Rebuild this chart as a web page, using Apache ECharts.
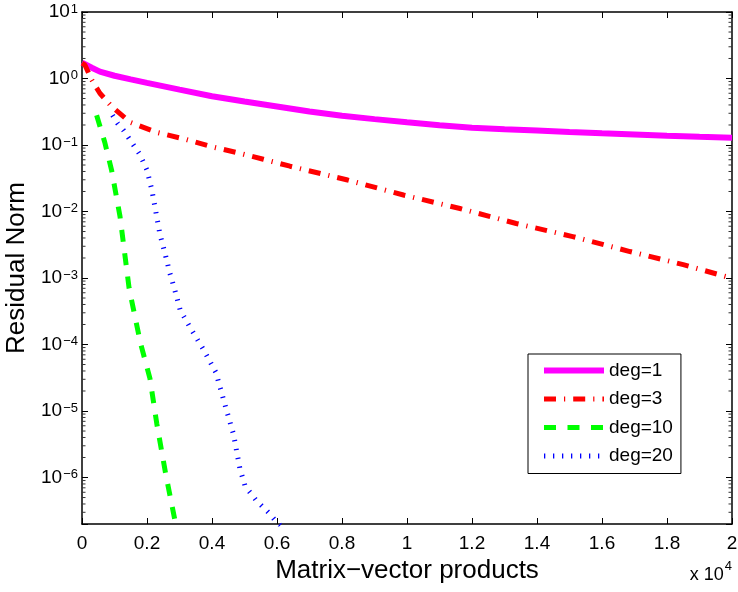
<!DOCTYPE html>
<html><head><meta charset="utf-8">
<script src="https://cdn.jsdelivr.net/npm/echarts@6/dist/echarts.min.js"></script>
<style>html,body{margin:0;padding:0;background:#fff}#c{width:738px;height:592px}</style>
</head><body><div id="c"></div>
<script>
// ---- data (x in units of 10^4 matrix-vector products) ----
const xTickLabels = ['0','0.2','0.4','0.6','0.8','1','1.2','1.4','1.6','1.8','2'];
const seriesNames = ['deg=1','deg=3','deg=10','deg=20'];

const deg1X = [0, 0.03, 0.055, 0.1, 0.15, 0.2, 0.3, 0.4, 0.5, 0.6, 0.7, 0.8, 0.9, 1.0, 1.1, 1.2, 1.3, 1.4, 1.5, 1.6, 1.7, 1.8, 1.9, 2.0];
const deg1Y = [1.73, 1.45, 1.27, 1.1, 0.97, 0.86, 0.68, 0.54, 0.45, 0.38, 0.32, 0.275, 0.245, 0.22, 0.198, 0.182, 0.172, 0.165, 0.157, 0.150, 0.144, 0.138, 0.133, 0.129];

const deg3X = [0, 0.009, 0.03, 0.055, 0.09, 0.148, 0.23, 0.318, 0.40, 0.486, 0.558, 0.64, 0.814, 0.989, 1.163, 1.336, 1.51, 1.686, 1.85, 2.0];
const deg3Y = [1.7, 1.6, 0.95, 0.6, 0.385, 0.22, 0.155, 0.122, 0.094, 0.075, 0.061, 0.048, 0.030, 0.0177, 0.0111, 0.0066, 0.0042, 0.0025, 0.00159, 0.00099];

const deg10X = [0.045, 0.07, 0.091, 0.117, 0.145, 0.18, 0.209, 0.23, 0.258, 0.29];
const deg10Y = [0.28, 0.11, 0.042, 0.0084, 7.0e-4, 1.05e-4, 3.1e-5, 6.5e-6, 1.1e-6, 1.8e-7];

const deg20X = [0.094, 0.11, 0.127, 0.15, 0.178, 0.2, 0.215, 0.227, 0.24, 0.255, 0.27, 0.286, 0.302, 0.33, 0.373, 0.412, 0.443, 0.466, 0.486, 0.502, 0.535, 0.576, 0.6, 0.61];
const deg20Y = [0.28, 0.21, 0.168, 0.115, 0.072, 0.042, 0.021, 0.01, 0.0045, 0.0024, 0.0012, 6.5e-4, 3.3e-4, 1.9e-4, 8.5e-5, 3.8e-5, 1.1e-5, 4.5e-6, 1.35e-6, 7.4e-7, 4.6e-7, 2.9e-7, 2.1e-7, 1.9e-7];

// minor tick mantissas of the log axis (2..9 x 10^n)
const minorMantissas = [2, 3, 4, 5, 6, 7, 8, 9];
const minorDecades = [-7, -6, -5, -4, -3, -2, -1, 0];

// ---- chart ----
const FONT = '"Liberation Sans", Arial, Helvetica, sans-serif';
const Y_MIN = 2e-7, Y_MAX = 10;
const pairs = (xs, ys) => xs.map((x, i) => [x, ys[i]]);

const minorTickValues = [];
minorDecades.forEach(d => minorMantissas.forEach(m => {
  const v = m * Math.pow(10, d);
  if (v > Y_MIN * 1.0001 && v < Y_MAX) minorTickValues.push([0, v]);
}));

const chart = echarts.init(document.getElementById('c'), null, {renderer: 'canvas'});

const axisLineStyle = {color: '#000', width: 1.5};
const tickStyle = {color: '#000', width: 1};

function yLabel(v) {
  const e = Math.log10(v);
  const r = Math.round(e);
  if (Math.abs(e - r) > 1e-6) return '';
  const s = r < 0 ? '\u2212' + (-r) : String(r);
  return '{b|10}{e|' + s + '}';
}

const yRich = {
  b: {fontSize: 19, lineHeight: 19, fontFamily: FONT, color: '#000', padding: [8, 0, 8, 0]},
  e: {fontSize: 13, lineHeight: 13, fontFamily: FONT, color: '#000', verticalAlign: 'top', padding: [0, 0, 0, 1]}
};

const legendWidths = [6, 5, 5, 5];

const option = {
  animation: false,
  backgroundColor: '#fff',
  grid: {left: 82, right: 6, top: 12, bottom: 68, outerBoundsMode: 'none', containLabel: false},
  legend: {
    orient: 'vertical', left: 528, top: 354,
    padding: [7, 8, 8, 13],
    itemWidth: 60, itemHeight: 19, itemGap: 9.5,
    borderColor: '#000', borderWidth: 1, backgroundColor: '#fff',
    itemStyle: {opacity: 0},
    textStyle: {fontSize: 19, lineHeight: 19, fontFamily: FONT, color: '#000'},
    data: seriesNames.map((n, i) => ({name: n, itemStyle: {opacity: 0}, lineStyle: {width: legendWidths[i]}}))
  },
  xAxis: [{
    type: 'value', position: 'bottom', min: 0, max: 2, interval: 0.2,
    name: 'Matrix\u2212vector products', nameLocation: 'middle', nameGap: 30,
    nameTextStyle: {fontSize: 26, fontFamily: FONT, color: '#000'},
    axisLine: {show: true, onZero: false, lineStyle: axisLineStyle},
    axisTick: {show: true, inside: true, length: 6, lineStyle: tickStyle},
    axisLabel: {show: true, margin: 10, fontSize: 19, fontFamily: FONT, color: '#000',
      formatter: v => xTickLabels[Math.round(v / 0.2)]},
    splitLine: {show: false}
  }, {
    type: 'value', position: 'top', min: 0, max: 2, interval: 0.2,
    axisLine: {show: true, onZero: false, lineStyle: axisLineStyle},
    axisTick: {show: true, inside: true, length: 6, lineStyle: tickStyle},
    axisLabel: {show: false},
    splitLine: {show: false}
  }],
  yAxis: [{
    type: 'log', logBase: 10, position: 'left', min: Y_MIN, max: Y_MAX,
    name: 'Residual Norm', nameLocation: 'middle', nameGap: 44, nameRotate: 90,
    nameTextStyle: {fontSize: 26, fontFamily: FONT, color: '#000'},
    axisLine: {show: true, onZero: false, lineStyle: axisLineStyle},
    axisTick: {show: true, inside: true, length: 6, lineStyle: tickStyle},
    axisLabel: {show: true, margin: 4, formatter: yLabel, rich: yRich},
    splitLine: {show: false}
  }, {
    type: 'log', logBase: 10, position: 'right', min: Y_MIN, max: Y_MAX,
    axisLine: {show: true, onZero: false, lineStyle: axisLineStyle},
    axisTick: {show: true, inside: true, length: 6, lineStyle: tickStyle},
    axisLabel: {show: false},
    splitLine: {show: false}
  }],
  graphic: [{
    type: 'text', right: 6, top: 554,
    style: {
      text: '{b|x 10}{e|4}',
      rich: {
        b: {fontSize: 18, lineHeight: 18, fontFamily: FONT, fill: '#000', padding: [12, 0, 0, 0]},
        e: {fontSize: 13, lineHeight: 13, fontFamily: FONT, fill: '#000', verticalAlign: 'top', padding: [0, 0, 0, 1]}
      }
    }
  }],
  series: [{
    // minor ticks of the log axis, placed through the axis scale (left and right borders)
    type: 'custom', xAxisIndex: 0, yAxisIndex: 0,
    silent: true, clip: false, z: 1,
    data: minorTickValues,
    renderItem: function (params, api) {
      const v = api.value(1);
      const pl = api.coord([0, v]);
      const pr = api.coord([2, v]);
      return {
        type: 'group',
        children: [
          {type: 'line', shape: {x1: pl[0], y1: pl[1], x2: pl[0] + 3.5, y2: pl[1]}, style: {stroke: '#333', lineWidth: 1}},
          {type: 'line', shape: {x1: pr[0], y1: pr[1], x2: pr[0] - 3.5, y2: pr[1]}, style: {stroke: '#333', lineWidth: 1}}
        ]
      };
    }
  }, {
    name: seriesNames[0], type: 'line', xAxisIndex: 0, yAxisIndex: 0,
    data: pairs(deg1X, deg1Y), showSymbol: false, symbol: 'none',
    lineStyle: {color: '#ff00ff', width: 6, type: 'solid'}, itemStyle: {color: '#ff00ff'}
  }, {
    name: seriesNames[1], type: 'line', xAxisIndex: 0, yAxisIndex: 0,
    data: pairs(deg3X, deg3Y), showSymbol: false, symbol: 'none',
    lineStyle: {color: '#ff0000', width: 5, type: [12, 8, 1.2, 8]}, itemStyle: {color: '#ff0000'}
  }, {
    name: seriesNames[2], type: 'line', xAxisIndex: 0, yAxisIndex: 0,
    data: pairs(deg10X, deg10Y), showSymbol: false, symbol: 'none',
    lineStyle: {color: '#00ff00', width: 5, type: [12, 11.5]}, itemStyle: {color: '#00ff00'}
  }, {
    name: seriesNames[3], type: 'line', xAxisIndex: 0, yAxisIndex: 0,
    data: pairs(deg20X, deg20Y), showSymbol: false, symbol: 'none',
    lineStyle: {color: '#0000ff', width: 5, type: [1.3, 7.7]}, itemStyle: {color: '#0000ff'}
  }]
};
chart.setOption(option);
</script>
</body></html>
